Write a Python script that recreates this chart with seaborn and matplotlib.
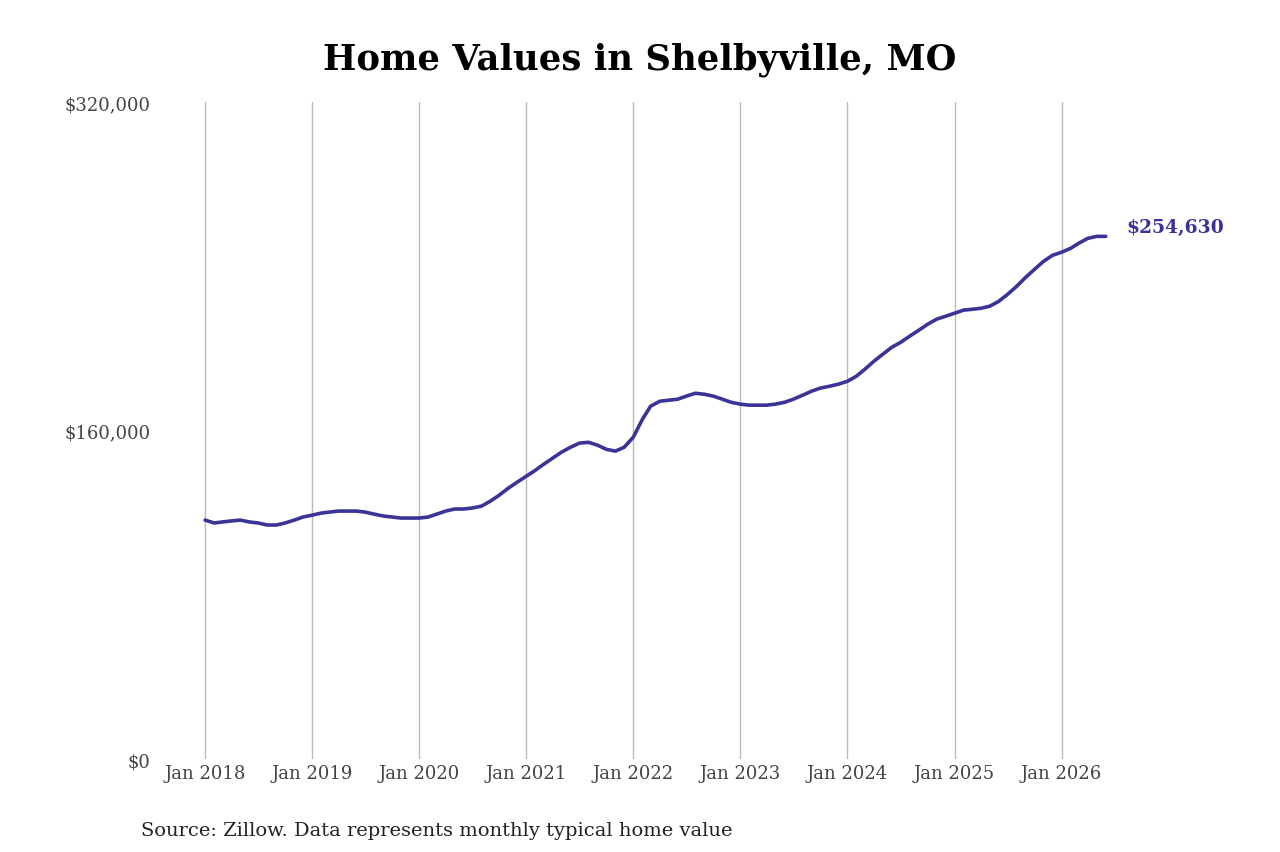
import pandas as pd
import seaborn as sns
import matplotlib.pyplot as plt
import matplotlib.ticker as mticker

# monthly typical home value, Jan 2018 .. Jun 2026
values = [
    116400, 115000, 115500, 116000, 116400, 115500, 115000, 114000, 114000, 115000, 116400, 117900,  # 2018
    118800, 119800, 120300, 120800, 120800, 120800, 120300, 119300, 118400, 117900, 117400, 117400,  # 2019
    117400, 117900, 119300, 120800, 121800, 121800, 122300, 123200, 125700, 128600, 132000, 134900,  # 2020
    137800, 140700, 143600, 146600, 149500, 151900, 153900, 154300, 152900, 150900, 150000, 151900,  # 2021
    156800, 165500, 171900, 174300, 174800, 175300, 176800, 178200, 177700, 176800, 175300, 173800,  # 2022
    172900, 172400, 172400, 172400, 172900, 173800, 175300, 177200, 179200, 180700, 181600, 182600,  # 2023
    184000, 186500, 189900, 193800, 197200, 200600, 203000, 206000, 208900, 211800, 214300, 215700,  # 2024
    217200, 218700, 219100, 219600, 220600, 223000, 226400, 230300, 234700, 238600, 242500, 245400,  # 2025
    246900, 248800, 251300, 253700, 254630, 254630,                                                  # 2026
]
dates = pd.date_range("2018-01-01", periods=len(values), freq="MS")
df = pd.DataFrame({"date": dates, "value": values})

line_color = "#3b3497"

sns.set_theme(style="white")
plt.rcParams["font.family"] = ["DejaVu Serif"]

fig = plt.figure(figsize=(12.8, 8.53), dpi=100)
ax = fig.add_axes([0.1284, 0.109, 0.7586, 0.77])
sns.lineplot(data=df, x="date", y="value", color=line_color, linewidth=2.6, ax=ax)

ax.set_ylim(0, 320000)
ax.set_xlim(pd.Timestamp("2017-08-15"), pd.Timestamp("2026-09-10"))
ax.set_yticks([0, 160000, 320000])
ax.yaxis.set_major_formatter(mticker.FuncFormatter(lambda v, p: f"${v:,.0f}"))
years = pd.date_range("2018-01-01", "2026-01-01", freq="YS")
ax.set_xticks(years)
ax.set_xticklabels([f"Jan {d.year}" for d in years])
ax.tick_params(axis="both", labelsize=13, colors="#444444", length=0)
ax.tick_params(axis="y", pad=10)
ax.grid(axis="x", color="#bbbbbb", linewidth=1)
ax.grid(axis="y", visible=False)
for s in ax.spines.values():
    s.set_visible(False)
ax.set_xlabel("")
ax.set_ylabel("")

last = df.iloc[-1]
ax.annotate(f"${last['value']:,.0f}", (last["date"], last["value"]),
            xytext=(15, 0), textcoords="offset points", va="bottom",
            fontsize=13.5, fontweight="bold", color=line_color)

fig.suptitle("Home Values in Shelbyville, MO", fontsize=25.5, fontweight="bold",
             color="black", y=0.95)
fig.text(0.11, 0.02, "Source: Zillow. Data represents monthly typical home value",
         fontsize=14, color="#222222")

fig.savefig("out.png", dpi=100)
